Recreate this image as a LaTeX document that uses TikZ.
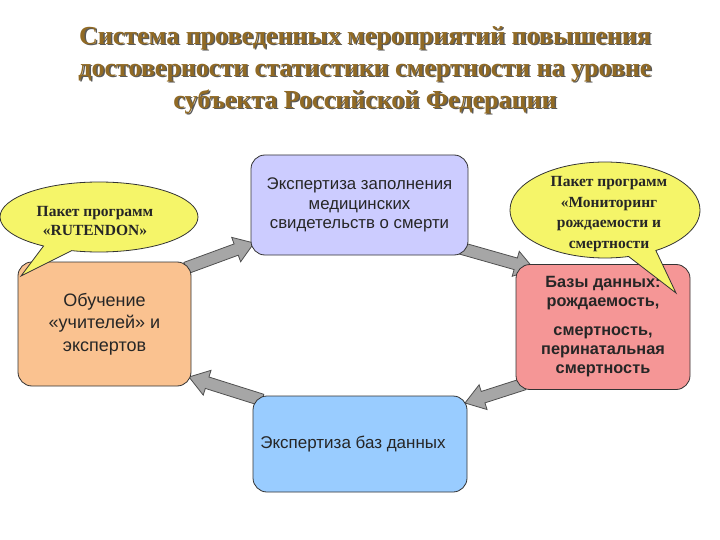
\documentclass[tikz,border=0pt]{standalone}
\usepackage{fontspec}
\setmainfont{Liberation Serif}
\setsansfont{Liberation Sans}
\usetikzlibrary{calc,shapes.callouts}

\definecolor{titlebrown}{RGB}{145,106,36}
\definecolor{boxlilac}{RGB}{204,204,255}
\definecolor{boxpeach}{RGB}{250,194,144}
\definecolor{boxrose}{RGB}{245,150,150}
\definecolor{boxsky}{RGB}{153,204,255}
\definecolor{bubble}{RGB}{245,245,105}
\definecolor{arrowgray}{RGB}{166,166,166}
\definecolor{arrowedge}{RGB}{80,80,80}

% thick grey block arrow between two named points
\newcommand{\blockarrow}[2]{%
  \draw[barrow] let \p1=(#1), \p2=(#2),
    \n1={atan2(\y2-\y1,\x2-\x1)}, \n2={veclen(\x2-\x1,\y2-\y1)} in
    [shift={(\p1)}, rotate=\n1]
    (0,6) -- ({\n2-19},6) -- ({\n2-19},13) -- (\n2,0)
    -- ({\n2-19},-13) -- ({\n2-19},-6) -- (0,-6) -- cycle;}

\begin{document}
\begin{tikzpicture}[x=1pt, y=-1pt,
  stage/.style={draw=black!80, line width=0.8pt, rounded corners=14pt,
    align=center, font=\sffamily, text=black!85},
  barrow/.style={fill=arrowgray, draw=arrowedge, line width=0.8pt},
  bubbleshape/.style={ellipse callout, draw=black!80, fill=bubble,
    line width=0.8pt, callout pointer arc=18, inner sep=0pt},
  bubbletext/.style={align=center, text=black!85,
    font=\bfseries\fontsize{15.5}{19}\selectfont}]
  \useasboundingbox (0,0) rectangle (720,540);

  % Title with shadow
  \node[align=center, text=black!65, font=\bfseries\fontsize{26}{32}\selectfont]
    (titleshadow) at (366.5,71.5) {Система проведенных мероприятий повышения\\
    достоверности статистики смертности на уровне\\
    субъекта Российской Федерации};
  \node[align=center, text=titlebrown, font=\bfseries\fontsize{26}{32}\selectfont]
    (title) at (365,70) {Система проведенных мероприятий повышения\\
    достоверности статистики смертности на уровне\\
    субъекта Российской Федерации};

  % Arrow end points
  \coordinate (a1s) at (186,268);
  \coordinate (a1e) at (254,243);
  \coordinate (a2s) at (460,248);
  \coordinate (a2e) at (534,269);
  \coordinate (a3s) at (524,384);
  \coordinate (a3e) at (465,403);
  \coordinate (a4s) at (262,400);
  \coordinate (a4e) at (189,377);

  % Cycle arrows
  \blockarrow{a1s}{a1e}
  \blockarrow{a2s}{a2e}
  \blockarrow{a3s}{a3e}
  \blockarrow{a4s}{a4e}

  % Four stages
  \node[stage, fill=boxlilac, minimum width=217, minimum height=100,
    font=\sffamily\fontsize{16.8}{19.5}\selectfont] (check) at (359.5,205)
    {Экспертиза заполнения\\ медицинских\\ свидетельств о смерти};
  \node[stage, fill=boxpeach, minimum width=173, minimum height=124,
    font=\sffamily\fontsize{18}{22.5}\selectfont] (teach) at (104.5,324)
    {Обучение\\ «учителей» и\\ экспертов};
  \node[stage, fill=boxrose, minimum width=174, minimum height=125,
    font=\sffamily\bfseries\fontsize{16.3}{19}\selectfont] (base) at (603,327)
    {Базы данных:\\ рождаемость,\\[10pt] смертность,\\ перинатальная\\ смертность};
  \node[stage, fill=boxsky, minimum width=214, minimum height=96,
    font=\sffamily\fontsize{17}{20}\selectfont] (audit) at (360,444)
    {Экспертиза баз данных\hspace*{14pt}};

  % Callouts
  \coordinate (tipL) at (21,276);
  \coordinate (tipR) at (676,293);
  \node[bubbleshape, minimum width=198, minimum height=70,
    callout absolute pointer={(tipL)}] (rutendon) at (99,217) {};
  \node[bubbletext] (rutendontext) at ($(rutendon.center)+(-4,4)$)
    {Пакет программ\\ «RUTENDON»};
  \node[bubbleshape, minimum width=190, minimum height=96,
    callout absolute pointer={(tipR)}] (monitor) at (605,210) {};
  \node[bubbletext, font=\bfseries\fontsize{15.5}{20.5}\selectfont]
    (monitortext) at ($(monitor.center)+(4,4)$)
    {Пакет программ\\ «Мониторинг\\ рождаемости и\\ смертности};
\end{tikzpicture}
\end{document}
